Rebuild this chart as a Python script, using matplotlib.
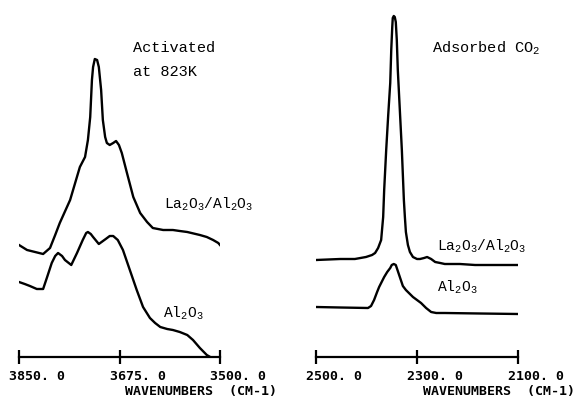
import numpy as np
import matplotlib
matplotlib.use("Agg")
import matplotlib.pyplot as plt
import matplotlib.transforms as mtransforms

plt.rcParams['mathtext.fontset'] = 'custom'
plt.rcParams['mathtext.rm'] = 'Liberation Mono'
plt.rcParams['mathtext.it'] = 'Liberation Mono'

# OH region, activated at 823K (wavenumber, absorbance a.u.)
oh_la_w = [3850, 3836, 3822, 3808, 3796, 3787, 3779, 3761, 3744, 3735, 3730, 3726,
           3723, 3721, 3718, 3714, 3711, 3707, 3704, 3700, 3697, 3692, 3686, 3681,
           3676, 3671, 3662, 3651, 3639, 3627, 3617, 3599, 3582, 3570, 3557, 3535,
           3523, 3512, 3503, 3500]
oh_la_a = [1.14, 1.09, 1.07, 1.05, 1.11, 1.24, 1.36, 1.59, 1.92, 2.02, 2.19, 2.42,
           2.79, 2.92, 3.00, 2.99, 2.92, 2.69, 2.39, 2.22, 2.16, 2.14, 2.16, 2.18,
           2.14, 2.06, 1.86, 1.62, 1.46, 1.37, 1.31, 1.29, 1.29, 1.28, 1.27, 1.24,
           1.22, 1.19, 1.16, 1.14]

oh_al_w = [3850, 3840, 3831, 3819, 3808, 3801, 3793, 3787, 3782, 3775, 3770, 3759,
           3749, 3739, 3733, 3730, 3725, 3721, 3711, 3699, 3692, 3686, 3678, 3669,
           3657, 3645, 3634, 3622, 3613, 3604, 3592, 3582, 3570, 3557, 3547, 3535,
           3523, 3517]
oh_al_a = [0.77, 0.75, 0.73, 0.70, 0.70, 0.82, 0.96, 1.03, 1.06, 1.03, 0.99, 0.94,
           1.06, 1.19, 1.26, 1.27, 1.25, 1.22, 1.15, 1.20, 1.23, 1.23, 1.19, 1.09,
           0.89, 0.69, 0.52, 0.41, 0.36, 0.32, 0.30, 0.29, 0.27, 0.24, 0.19, 0.11,
           0.04, 0.02]

# adsorbed CO2 region
co2_la_w = [2500, 2452, 2423, 2401, 2389, 2383, 2377, 2371, 2367, 2365, 2361, 2357,
            2353, 2351, 2349, 2348, 2346, 2344, 2342, 2340, 2338, 2334, 2330, 2326,
            2324, 2322, 2318, 2314, 2308, 2300, 2294, 2286, 2280, 2272, 2264, 2254,
            2245, 2215, 2185, 2100]
co2_la_a = [0.99, 1.00, 1.00, 1.02, 1.04, 1.06, 1.11, 1.19, 1.42, 1.69, 2.09, 2.44,
            2.76, 3.09, 3.32, 3.41, 3.43, 3.42, 3.37, 3.19, 2.89, 2.49, 2.09, 1.59,
            1.42, 1.27, 1.14, 1.07, 1.02, 1.00, 1.00, 1.01, 1.02, 1.00, 0.97, 0.96,
            0.95, 0.95, 0.94, 0.94]

co2_al_w = [2500, 2452, 2397, 2391, 2385, 2379, 2375, 2371, 2365, 2359, 2353, 2350,
            2346, 2342, 2340, 2336, 2332, 2328, 2322, 2314, 2308, 2300, 2292, 2282,
            2272, 2262, 2245, 2175, 2100]
co2_al_a = [0.52, 0.515, 0.51, 0.53, 0.59, 0.67, 0.72, 0.76, 0.82, 0.87, 0.91, 0.94,
            0.95, 0.94, 0.91, 0.85, 0.79, 0.73, 0.69, 0.65, 0.62, 0.59, 0.56, 0.51,
            0.47, 0.46, 0.46, 0.455, 0.45]

left_ticks = [3850, 3675, 3500]
left_labels = ['3850. 0', '3675. 0', '3500. 0']
right_ticks = [2500, 2300, 2100]
right_labels = ['2500. 0', '2300. 0', '2100. 0']

W, H = 576, 400
fig = plt.figure(figsize=(5.76, 4.0), dpi=100)


def make_axes(x0, x1, lims, ticks, labels):
    ax = fig.add_axes([x0 / W, 43 / H, (x1 - x0) / W, 357 / H])
    ax.set_xlim(*lims)
    ax.set_ylim(0.02, 3.59)
    for s in ['left', 'right', 'top']:
        ax.spines[s].set_visible(False)
    ax.spines['bottom'].set_linewidth(1.6)
    ax.set_yticks([])
    ax.set_xticks(ticks)
    ax.set_xticklabels(labels, family='DejaVu Sans Mono', weight='bold',
                       fontsize=9.5, ha='left')
    ax.tick_params(axis='x', direction='inout', length=10, width=1.6, pad=4)
    # labels sit a bit left of their tick, like on the plotter output
    off = mtransforms.ScaledTranslation(-10 / 100, 0, fig.dpi_scale_trans)
    for lab in ax.get_xticklabels():
        lab.set_transform(lab.get_transform() + off)
    return ax


ax1 = make_axes(19, 220, (3850, 3500), left_ticks, left_labels)
ax1.plot(oh_la_w, oh_la_a, color='black', lw=1.7)
ax1.plot(oh_al_w, oh_al_a, color='black', lw=1.7)

ax2 = make_axes(316, 518, (2500, 2100), right_ticks, right_labels)
ax2.plot(co2_la_w, co2_la_a, color='black', lw=1.7)
ax2.plot(co2_al_w, co2_al_a, color='black', lw=1.7)


def ftext(x, y, s, **kw):
    fig.text(x / W, 1 - y / H, s, family='Liberation Mono', va='baseline', **kw)


ftext(133, 52, 'Activated', fontsize=11)
ftext(133, 76, 'at 823K', fontsize=11)
ftext(164, 209, r'La$_2$O$_3$/Al$_2$O$_3$', fontsize=10.5)
ftext(163, 318, r'Al$_2$O$_3$', fontsize=10.5)
ftext(432, 53, r'Adsorbed CO$_2$', fontsize=11)
ftext(437, 251, r'La$_2$O$_3$/Al$_2$O$_3$', fontsize=10.5)
ftext(437, 292, r'Al$_2$O$_3$', fontsize=10.5)

for xr in [277, 575]:
    fig.text(xr / W, 1 - 395 / H, 'WAVENUMBERS  (CM-1)', family='DejaVu Sans Mono',
             weight='bold', fontsize=9.5, ha='right', va='baseline')

fig.savefig('out.png', dpi=100)
